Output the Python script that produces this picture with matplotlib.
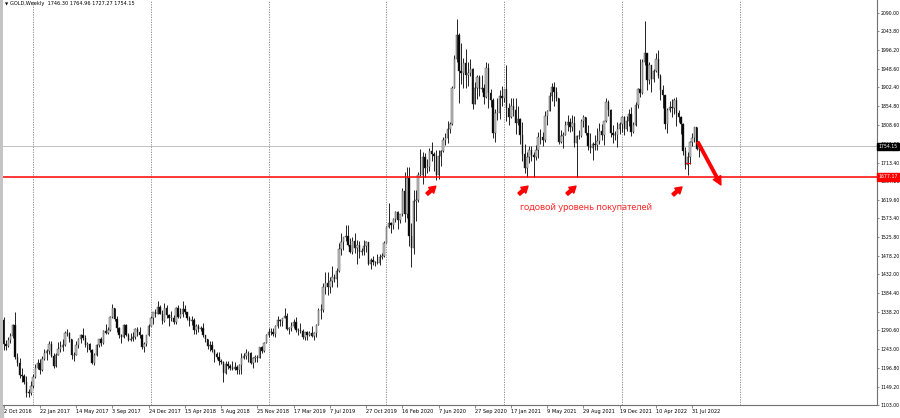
import matplotlib
matplotlib.use("Agg")
import matplotlib.pyplot as plt
from matplotlib.patches import Rectangle, FancyArrowPatch

# GOLD weekly candles, first bar is the week of 2 Oct 2016, last is 21 Aug 2022
opens = [
    1317, 1257, 1251, 1267, 1276, 1304, 1225, 1208, 1178, 1177, 1160, 1134, 1133,
    # 2017
    1151, 1173, 1196, 1209, 1190, 1220, 1234, 1238, 1257, 1226, 1202, 1229, 1244,
    1249, 1254, 1285, 1284, 1268, 1228, 1228, 1254, 1268, 1279, 1271, 1254, 1257,
    1242, 1209, 1228, 1255, 1269, 1258, 1289, 1285, 1291, 1325, 1347, 1320, 1297,
    1279, 1275, 1304, 1280, 1266, 1269, 1275, 1294, 1288, 1280, 1248, 1256, 1278,
    # 2018
    1303, 1322, 1338, 1332, 1350, 1333, 1315, 1347, 1330, 1322, 1323, 1313, 1347,
    1325, 1333, 1345, 1336, 1323, 1315, 1318, 1291, 1301, 1294, 1298, 1278, 1269,
    1252, 1255, 1241, 1231, 1223, 1214, 1212, 1184, 1206, 1201, 1196, 1193, 1199,
    1192, 1203, 1222, 1227, 1234, 1233, 1209, 1222, 1223, 1221, 1248, 1238, 1258,
    # 2019
    1280, 1286, 1288, 1282, 1303, 1317, 1314, 1322, 1328, 1294, 1298, 1302, 1313,
    1292, 1291, 1290, 1275, 1286, 1280, 1285, 1276, 1284, 1305, 1341, 1341, 1400,
    1409, 1400, 1415, 1426, 1419, 1440, 1497, 1513, 1526, 1529, 1506, 1488, 1517,
    1498, 1505, 1488, 1490, 1504, 1514, 1459, 1468, 1462, 1463, 1460, 1476, 1478,
    1512,
    # 2020
    1552, 1560, 1557, 1571, 1589, 1570, 1584, 1643, 1585, 1674, 1529, 1498, 1617,
    1620, 1683, 1683, 1728, 1700, 1702, 1743, 1735, 1730, 1683, 1730, 1743, 1771,
    1774, 1799, 1810, 1902, 1975, 2035, 1944, 1940, 1964, 1933, 1940, 1950, 1862,
    1900, 1930, 1899, 1902, 1879, 1951, 1889, 1872, 1788, 1839, 1839, 1881, 1877,
    # 2021
    1898, 1850, 1828, 1855, 1847, 1813, 1823, 1784, 1734, 1700, 1727, 1745, 1732,
    1728, 1744, 1777, 1777, 1769, 1831, 1844, 1881, 1903, 1891, 1877, 1764, 1781,
    1784, 1809, 1815, 1802, 1814, 1763, 1780, 1781, 1817, 1827, 1787, 1754, 1750,
    1761, 1757, 1768, 1793, 1783, 1818, 1865, 1846, 1788, 1783, 1782, 1798, 1811,
    # 2022
    1829, 1797, 1817, 1835, 1791, 1808, 1859, 1898, 1889, 1966, 1988, 1921, 1958,
    1925, 1945, 1974, 1932, 1897, 1883, 1811, 1846, 1853, 1851, 1871, 1839, 1827,
    1811, 1742, 1708, 1727, 1766, 1775, 1802, 1746.30,
]
highs = [
    1325, 1266, 1275, 1284, 1308, 1338, 1233, 1222, 1195, 1180, 1175, 1144, 1164,
    1181, 1207, 1220, 1220, 1226, 1245, 1245, 1264, 1264, 1234, 1233, 1261, 1264,
    1270, 1289, 1295, 1288, 1270, 1236, 1264, 1272, 1281, 1296, 1280, 1262, 1260,
    1244, 1233, 1257, 1270, 1275, 1291, 1306, 1300, 1326, 1357, 1348, 1326, 1300,
    1281, 1306, 1306, 1285, 1284, 1288, 1297, 1299, 1300, 1281, 1261, 1279, 1306,
    1326, 1338, 1345, 1366, 1355, 1341, 1361, 1355, 1333, 1340, 1329, 1350, 1356,
    1347, 1365, 1354, 1338, 1326, 1326, 1322, 1307, 1308, 1303, 1309, 1280, 1270,
    1265, 1263, 1245, 1236, 1236, 1219, 1213, 1214, 1214, 1206, 1214, 1211, 1204,
    1207, 1233, 1233, 1243, 1239, 1237, 1224, 1230, 1228, 1250, 1251, 1262, 1283,
    1298, 1298, 1298, 1304, 1326, 1319, 1323, 1347, 1334, 1300, 1311, 1320, 1325,
    1296, 1310, 1295, 1288, 1290, 1290, 1303, 1287, 1306, 1348, 1358, 1411, 1439,
    1437, 1426, 1453, 1433, 1449, 1510, 1535, 1527, 1555, 1557, 1524, 1525, 1535,
    1519, 1517, 1499, 1518, 1516, 1514, 1474, 1478, 1465, 1484, 1484, 1485, 1515,
    1553,
    1611, 1564, 1575, 1591, 1591, 1585, 1649, 1689, 1703, 1703, 1560, 1645, 1644,
    1690, 1747, 1739, 1738, 1722, 1751, 1765, 1740, 1745, 1745, 1745, 1779, 1789,
    1818, 1815, 1907, 1984, 2075, 2039, 2015, 1976, 2000, 1966, 1973, 1952, 1917,
    1933, 1933, 1933, 1911, 1966, 1965, 1899, 1875, 1848, 1875, 1896, 1906, 1899,
    1959, 1864, 1875, 1875, 1875, 1855, 1826, 1815, 1760, 1740, 1755, 1756, 1740,
    1758, 1790, 1797, 1790, 1843, 1845, 1890, 1913, 1916, 1903, 1877, 1795, 1790,
    1818, 1834, 1825, 1832, 1831, 1782, 1795, 1823, 1834, 1827, 1808, 1787, 1764,
    1782, 1800, 1814, 1810, 1818, 1877, 1870, 1849, 1809, 1793, 1815, 1815, 1830,
    1831, 1830, 1848, 1853, 1815, 1865, 1902, 1974, 1974, 2070, 1990, 1966, 1960,
    1949, 1988, 1998, 1936, 1909, 1884, 1850, 1869, 1874, 1877, 1879, 1847, 1830,
    1814, 1752, 1740, 1768, 1788, 1802, 1803, 1764.96,
]
lows = [
    1241, 1241, 1250, 1260, 1272, 1219, 1202, 1171, 1160, 1157, 1122, 1123, 1128,
    1146, 1172, 1194, 1180, 1188, 1216, 1216, 1231, 1223, 1195, 1198, 1228, 1237,
    1240, 1252, 1276, 1262, 1220, 1214, 1228, 1246, 1260, 1266, 1250, 1236, 1237,
    1205, 1204, 1226, 1250, 1251, 1256, 1281, 1281, 1290, 1322, 1314, 1287, 1271,
    1260, 1272, 1276, 1263, 1264, 1264, 1270, 1276, 1271, 1243, 1236, 1252, 1276,
    1302, 1307, 1325, 1331, 1331, 1306, 1311, 1321, 1303, 1314, 1308, 1306, 1321,
    1322, 1325, 1333, 1316, 1302, 1304, 1282, 1282, 1288, 1289, 1275, 1261, 1245,
    1238, 1237, 1211, 1219, 1204, 1207, 1160, 1182, 1193, 1190, 1190, 1192, 1180,
    1181, 1182, 1218, 1219, 1211, 1206, 1196, 1212, 1212, 1221, 1235, 1236, 1258,
    1275, 1279, 1276, 1275, 1298, 1302, 1302, 1321, 1291, 1281, 1290, 1297, 1287,
    1280, 1285, 1270, 1266, 1267, 1276, 1275, 1266, 1275, 1305, 1320, 1337, 1382,
    1381, 1385, 1400, 1412, 1400, 1437, 1480, 1492, 1517, 1504, 1485, 1484, 1485,
    1459, 1474, 1480, 1481, 1487, 1456, 1445, 1456, 1452, 1458, 1456, 1470, 1476,
    1510,
    1548, 1536, 1546, 1563, 1547, 1562, 1580, 1565, 1575, 1504, 1451, 1484, 1567,
    1614, 1680, 1660, 1676, 1688, 1691, 1717, 1693, 1670, 1671, 1704, 1740, 1757,
    1763, 1789, 1808, 1900, 1966, 1863, 1911, 1902, 1902, 1906, 1931, 1848, 1861,
    1873, 1882, 1890, 1860, 1875, 1850, 1854, 1774, 1764, 1820, 1824, 1855, 1865,
    1817, 1809, 1826, 1831, 1785, 1807, 1760, 1717, 1687, 1676, 1712, 1718, 1677,
    1721, 1725, 1760, 1756, 1765, 1809, 1843, 1869, 1855, 1868, 1761, 1762, 1750,
    1783, 1792, 1790, 1794, 1753, 1678, 1772, 1779, 1803, 1782, 1745, 1737, 1721,
    1746, 1746, 1760, 1770, 1758, 1816, 1831, 1778, 1762, 1770, 1753, 1785, 1790,
    1782, 1792, 1805, 1780, 1788, 1806, 1850, 1878, 1885, 1960, 1895, 1910, 1890,
    1915, 1941, 1926, 1872, 1850, 1798, 1787, 1840, 1828, 1836, 1805, 1816, 1785,
    1732, 1697, 1681, 1711, 1754, 1765, 1745, 1727.27,
]
closes = [
    1257, 1251, 1267, 1276, 1304, 1225, 1208, 1178, 1177, 1160, 1134, 1133, 1151,
    1173, 1196, 1209, 1190, 1220, 1234, 1238, 1257, 1226, 1202, 1229, 1244, 1249,
    1254, 1285, 1284, 1268, 1228, 1228, 1254, 1268, 1279, 1271, 1254, 1257, 1242,
    1209, 1228, 1255, 1269, 1258, 1289, 1285, 1291, 1325, 1347, 1320, 1297, 1279,
    1275, 1304, 1280, 1266, 1269, 1275, 1294, 1288, 1280, 1248, 1256, 1278, 1303,
    1322, 1338, 1332, 1350, 1333, 1315, 1347, 1330, 1322, 1323, 1313, 1347, 1325,
    1333, 1345, 1336, 1323, 1315, 1318, 1291, 1301, 1294, 1298, 1278, 1269, 1252,
    1255, 1241, 1231, 1223, 1214, 1212, 1184, 1206, 1201, 1196, 1193, 1199, 1192,
    1203, 1222, 1227, 1234, 1233, 1209, 1222, 1223, 1221, 1248, 1238, 1258, 1280,
    1286, 1288, 1282, 1303, 1317, 1314, 1322, 1328, 1294, 1298, 1302, 1313, 1292,
    1291, 1290, 1275, 1286, 1280, 1285, 1276, 1284, 1305, 1341, 1341, 1400, 1409,
    1400, 1415, 1426, 1419, 1440, 1497, 1513, 1526, 1529, 1506, 1488, 1517, 1498,
    1505, 1488, 1490, 1504, 1514, 1459, 1468, 1462, 1463, 1460, 1476, 1478, 1512,
    1552,
    1560, 1557, 1571, 1589, 1570, 1584, 1643, 1585, 1674, 1529, 1498, 1617, 1620,
    1683, 1683, 1728, 1700, 1702, 1743, 1735, 1730, 1683, 1730, 1743, 1771, 1774,
    1799, 1810, 1902, 1975, 2035, 1944, 1940, 1964, 1933, 1940, 1950, 1862, 1900,
    1930, 1899, 1902, 1879, 1951, 1889, 1872, 1788, 1839, 1839, 1881, 1877, 1898,
    1850, 1828, 1855, 1847, 1813, 1823, 1784, 1734, 1700, 1727, 1745, 1732, 1728,
    1744, 1777, 1777, 1769, 1831, 1844, 1881, 1903, 1891, 1877, 1764, 1781, 1784,
    1809, 1815, 1802, 1814, 1763, 1780, 1781, 1817, 1827, 1787, 1754, 1750, 1761,
    1757, 1768, 1793, 1783, 1818, 1865, 1846, 1788, 1783, 1782, 1798, 1811, 1829,
    1797, 1817, 1835, 1791, 1808, 1859, 1898, 1889, 1966, 1988, 1921, 1958, 1925,
    1945, 1974, 1932, 1897, 1883, 1811, 1846, 1853, 1851, 1871, 1839, 1827, 1811,
    1742, 1708, 1727, 1766, 1775, 1802, 1747, 1754.15,
]

date_labels = ["2 Oct 2016", "22 Jan 2017", "14 May 2017", "3 Sep 2017",
               "24 Dec 2017", "15 Apr 2018", "5 Aug 2018", "25 Nov 2018",
               "17 Mar 2019", "7 Jul 2019", "27 Oct 2019", "16 Feb 2020",
               "7 Jun 2020", "27 Sep 2020", "17 Jan 2021", "9 May 2021",
               "29 Aug 2021", "19 Dec 2021", "10 Apr 2022", "31 Jul 2022"]
date_bars = list(range(0, 305, 16))
price_ticks = [2090.00, 2043.80, 1996.20, 1948.60, 1902.40, 1854.80, 1808.60,
               1761.00, 1713.40, 1667.20, 1619.60, 1573.40, 1525.80, 1478.20,
               1432.00, 1384.40, 1338.20, 1290.60, 1243.00, 1196.80, 1149.20,
               1103.00]
grid_bars = [13, 65, 117, 169, 221, 273, 325]
support = 1677.17
bid = 1754.15
header = "GOLD,Weekly  1746.30 1764.96 1727.27 1754.15"
note = "годовой уровень покупателей"

# small arrows under the lows: (tail bar, tail price, tip bar, tip price)
small_arrows = [(186.9, 1634, 190.8, 1654), (227.5, 1634, 231.5, 1654),
                (248.7, 1634, 252.7, 1654), (295.5, 1632, 299.5, 1652)]
big_arrow = (306.5, 1765, 316.7, 1657)

fig = plt.figure(figsize=(9, 4.18), dpi=100)
ax = fig.add_axes([3 / 900, 13 / 418, 874 / 900, 405 / 418])
fig.add_artist(Rectangle((0, 0), 3 / 900, 1, transform=fig.transFigure,
                         color="#c4c4c4", zorder=0))

bars = list(range(len(closes)))
ax.vlines(bars, lows, highs, color="black", lw=0.6, zorder=3)
bottoms = [min(o, c) for o, c in zip(opens, closes)]
heights = [max(abs(c - o), 1.5) for o, c in zip(opens, closes)]
faces = ["#c8c8c8" if c >= o else "black" for o, c in zip(opens, closes)]
ax.bar(bars, heights, bottom=bottoms, width=0.62, color=faces,
       edgecolor="#303030", linewidth=0.3, zorder=4)

for b in grid_bars:
    ax.axvline(b, color="#808080", lw=0.6, ls=(0, (1.5, 1.5)), zorder=1)

ax.axhline(bid, color="#c0c0c0", lw=0.7, zorder=2)
ax.axhline(support, color="#ff0000", lw=1.1, zorder=5)
ax.plot([301.2, 303.2], [1712, 1712], color="#ff0000", lw=0.8, zorder=6)

for t0, p0, t1, p1 in small_arrows:
    ax.add_patch(FancyArrowPatch((t0, p0), (t1, p1), mutation_scale=10,
                 arrowstyle="simple,head_width=0.55,head_length=0.45,tail_width=0.22",
                 color="#ff0000", shrinkA=0, shrinkB=0, zorder=6))
t0, p0, t1, p1 = big_arrow
ax.add_patch(FancyArrowPatch((t0, p0), (t1, p1), mutation_scale=10,
             arrowstyle="simple,head_width=0.6,head_length=0.6,tail_width=0.18",
             color="#ff0000", shrinkA=0, shrinkB=0, zorder=6))

ax.text(228, 1601, note, color="#ff2a2a", fontsize=6.5, family="Noto Sans",
        ha="left", va="center")

ax.set_xlim(-0.3, 385.6)
ax.set_ylim(1103.0, 2122.7)
for side in ["top", "left"]:
    ax.spines[side].set_visible(False)
for side in ["right", "bottom"]:
    ax.spines[side].set_color("#707070")
    ax.spines[side].set_linewidth(0.8)

ax.yaxis.tick_right()
ax.set_yticks(price_ticks)
ax.set_yticklabels([f"{p:.2f}" for p in price_ticks])
ax.tick_params(axis="y", direction="out", length=1.5, width=0.5, color="#606060",
               labelsize=3.3, pad=0.8)
ax.set_xticks(date_bars)
ax.set_xticklabels(date_labels)
for lab in ax.get_xticklabels():
    lab.set_horizontalalignment("left")
ax.tick_params(axis="x", direction="out", length=2, width=0.5, color="#606060",
               labelsize=3.6, pad=1)

tag_tf = ax.get_yaxis_transform()
ax.text(1.002, bid, "1754.15", transform=tag_tf, ha="left", va="center",
        color="white", fontsize=3.3, clip_on=False, zorder=10,
        bbox=dict(boxstyle="square,pad=0.3", fc="black", ec="black"))
ax.text(1.002, support, "1677.17", transform=tag_tf, ha="left", va="center",
        color="white", fontsize=3.3, clip_on=False, zorder=10,
        bbox=dict(boxstyle="square,pad=0.3", fc="#ff0000", ec="#ff0000"))

fig.text(5 / 900, 1 - 4 / 418, "▼", fontsize=3, va="center", ha="left")
fig.text(10 / 900, 1 - 4 / 418, header, fontsize=3.6, va="center", ha="left")

fig.savefig("out.png", dpi=100)
